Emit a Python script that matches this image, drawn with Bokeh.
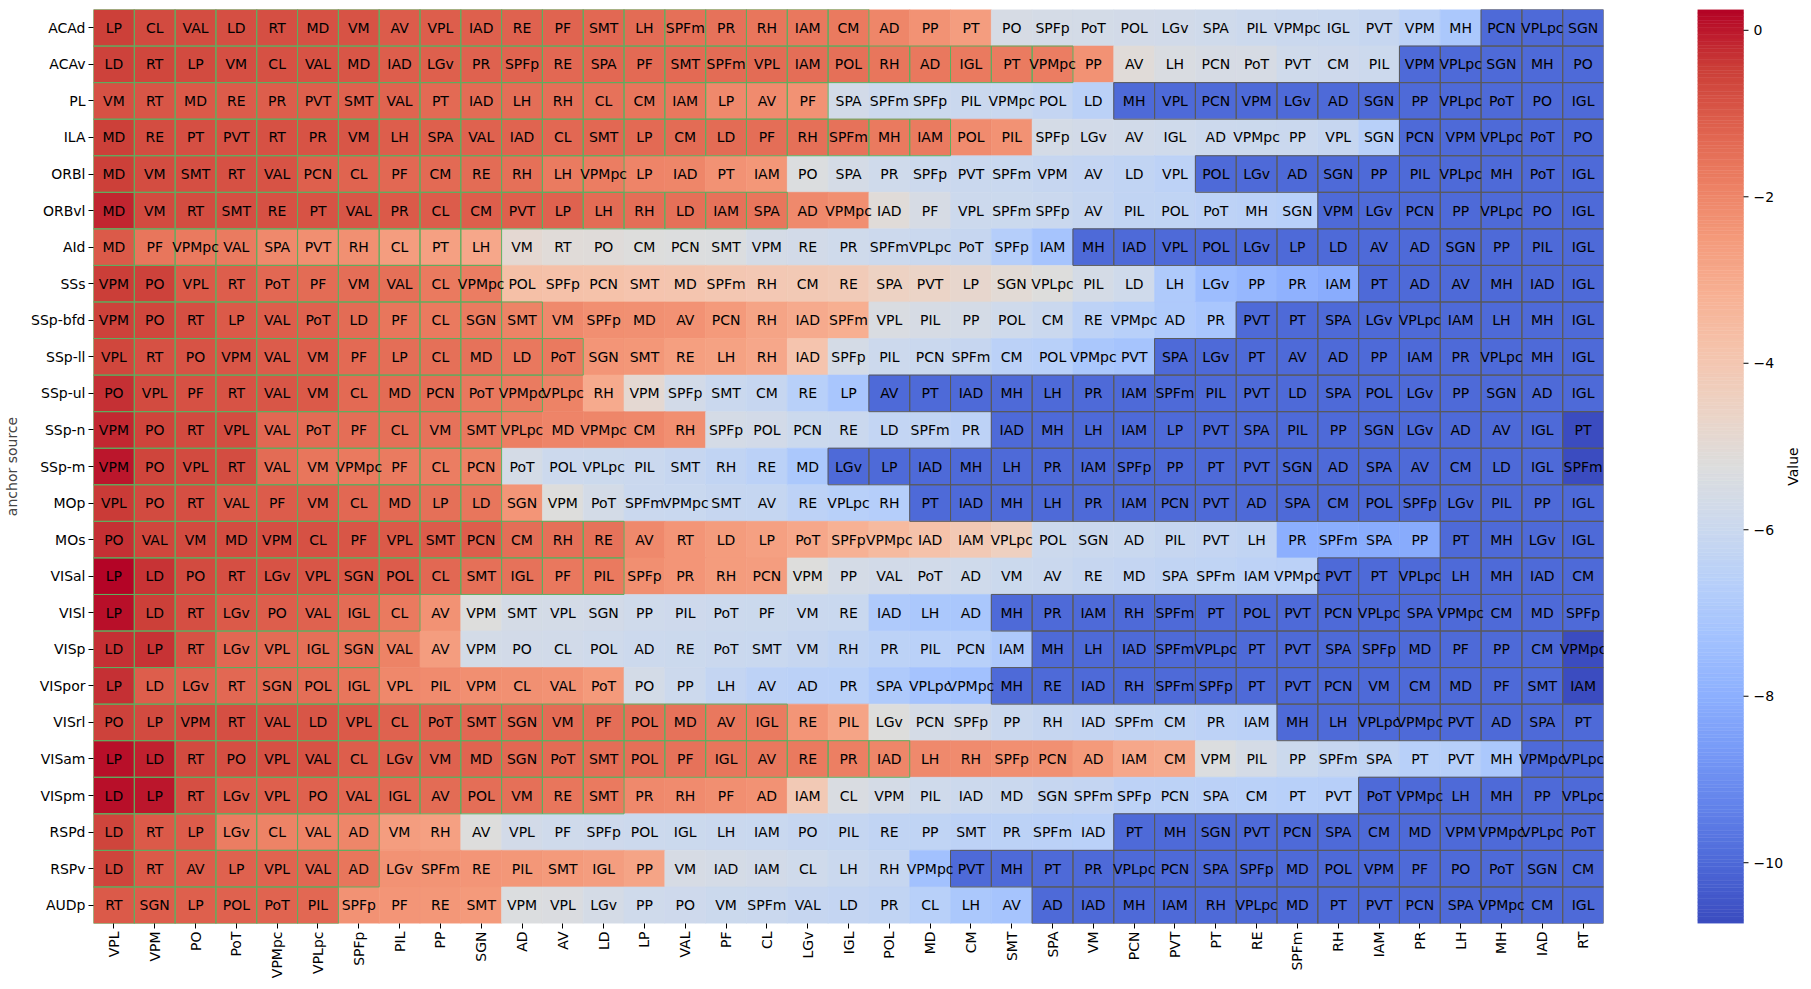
import math
import numpy as np
from bokeh.plotting import figure
from bokeh.models import FactorRange, Range1d, LinearColorMapper, ColumnDataSource
from bokeh.layouts import row
from bokeh.transform import transform
from bokeh.core.properties import value
from bokeh.embed import file_html
from bokeh.resources import INLINE

rows = ["ACAd", "ACAv", "PL", "ILA", "ORBl", "ORBvl", "AId", "SSs", "SSp-bfd", "SSp-ll",
        "SSp-ul", "SSp-n", "SSp-m", "MOp", "MOs", "VISal", "VISl", "VISp", "VISpor", "VISrl",
        "VISam", "VISpm", "RSPd", "RSPv", "AUDp"]

cols = ["VPL", "VPM", "PO", "PoT", "VPMpc", "VPLpc", "SPFp", "PIL", "PP", "SGN", "AD", "AV",
        "LD", "LP", "VAL", "PF", "CL", "LGv", "IGL", "POL", "MD", "CM", "SMT", "SPA", "VM",
        "PCN", "PVT", "PT", "RE", "SPFm", "RH", "IAM", "PR", "LH", "MH", "IAD", "RT"]

cell_labels = [
    "LP CL VAL LD RT MD VM AV VPL IAD RE PF SMT LH SPFm PR RH IAM CM AD PP PT PO SPFp PoT POL LGv SPA PIL VPMpc IGL PVT VPM MH PCN VPLpc SGN",
    "LD RT LP VM CL VAL MD IAD LGv PR SPFp RE SPA PF SMT SPFm VPL IAM POL RH AD IGL PT VPMpc PP AV LH PCN PoT PVT CM PIL VPM VPLpc SGN MH PO",
    "VM RT MD RE PR PVT SMT VAL PT IAD LH RH CL CM IAM LP AV PF SPA SPFm SPFp PIL VPMpc POL LD MH VPL PCN VPM LGv AD SGN PP VPLpc PoT PO IGL",
    "MD RE PT PVT RT PR VM LH SPA VAL IAD CL SMT LP CM LD PF RH SPFm MH IAM POL PIL SPFp LGv AV IGL AD VPMpc PP VPL SGN PCN VPM VPLpc PoT PO",
    "MD VM SMT RT VAL PCN CL PF CM RE RH LH VPMpc LP IAD PT IAM PO SPA PR SPFp PVT SPFm VPM AV LD VPL POL LGv AD SGN PP PIL VPLpc MH PoT IGL",
    "MD VM RT SMT RE PT VAL PR CL CM PVT LP LH RH LD IAM SPA AD VPMpc IAD PF VPL SPFm SPFp AV PIL POL PoT MH SGN VPM LGv PCN PP VPLpc PO IGL",
    "MD PF VPMpc VAL SPA PVT RH CL PT LH VM RT PO CM PCN SMT VPM RE PR SPFm VPLpc PoT SPFp IAM MH IAD VPL POL LGv LP LD AV AD SGN PP PIL IGL",
    "VPM PO VPL RT PoT PF VM VAL CL VPMpc POL SPFp PCN SMT MD SPFm RH CM RE SPA PVT LP SGN VPLpc PIL LD LH LGv PP PR IAM PT AD AV MH IAD IGL",
    "VPM PO RT LP VAL PoT LD PF CL SGN SMT VM SPFp MD AV PCN RH IAD SPFm VPL PIL PP POL CM RE VPMpc AD PR PVT PT SPA LGv VPLpc IAM LH MH IGL",
    "VPL RT PO VPM VAL VM PF LP CL MD LD PoT SGN SMT RE LH RH IAD SPFp PIL PCN SPFm CM POL VPMpc PVT SPA LGv PT AV AD PP IAM PR VPLpc MH IGL",
    "PO VPL PF RT VAL VM CL MD PCN PoT VPMpc VPLpc RH VPM SPFp SMT CM RE LP AV PT IAD MH LH PR IAM SPFm PIL PVT LD SPA POL LGv PP SGN AD IGL",
    "VPM PO RT VPL VAL PoT PF CL VM SMT VPLpc MD VPMpc CM RH SPFp POL PCN RE LD SPFm PR IAD MH LH IAM LP PVT SPA PIL PP SGN LGv AD AV IGL PT",
    "VPM PO VPL RT VAL VM VPMpc PF CL PCN PoT POL VPLpc PIL SMT RH RE MD LGv LP IAD MH LH PR IAM SPFp PP PT PVT SGN AD SPA AV CM LD IGL SPFm",
    "VPL PO RT VAL PF VM CL MD LP LD SGN VPM PoT SPFm VPMpc SMT AV RE VPLpc RH PT IAD MH LH PR IAM PCN PVT AD SPA CM POL SPFp LGv PIL PP IGL",
    "PO VAL VM MD VPM CL PF VPL SMT PCN CM RH RE AV RT LD LP PoT SPFp VPMpc IAD IAM VPLpc POL SGN AD PIL PVT LH PR SPFm SPA PP PT MH LGv IGL",
    "LP LD PO RT LGv VPL SGN POL CL SMT IGL PF PIL SPFp PR RH PCN VPM PP VAL PoT AD VM AV RE MD SPA SPFm IAM VPMpc PVT PT VPLpc LH MH IAD CM",
    "LP LD RT LGv PO VAL IGL CL AV VPM SMT VPL SGN PP PIL PoT PF VM RE IAD LH AD MH PR IAM RH SPFm PT POL PVT PCN VPLpc SPA VPMpc CM MD SPFp",
    "LD LP RT LGv VPL IGL SGN VAL AV VPM PO CL POL AD RE PoT SMT VM RH PR PIL PCN IAM MH LH IAD SPFm VPLpc PT PVT SPA SPFp MD PF PP CM VPMpc",
    "LP LD LGv RT SGN POL IGL VPL PIL VPM CL VAL PoT PO PP LH AV AD PR SPA VPLpc VPMpc MH RE IAD RH SPFm SPFp PT PVT PCN VM CM MD PF SMT IAM",
    "PO LP VPM RT VAL LD VPL CL PoT SMT SGN VM PF POL MD AV IGL RE PIL LGv PCN SPFp PP RH IAD SPFm CM PR IAM MH LH VPLpc VPMpc PVT AD SPA PT",
    "LP LD RT PO VPL VAL CL LGv VM MD SGN PoT SMT POL PF IGL AV RE PR IAD LH RH SPFp PCN AD IAM CM VPM PIL PP SPFm SPA PT PVT MH VPMpc VPLpc",
    "LD LP RT LGv VPL PO VAL IGL AV POL VM RE SMT PR RH PF AD IAM CL VPM PIL IAD MD SGN SPFm SPFp PCN SPA CM PT PVT PoT VPMpc LH MH PP VPLpc",
    "LD RT LP LGv CL VAL AD VM RH AV VPL PF SPFp POL IGL LH IAM PO PIL RE PP SMT PR SPFm IAD PT MH SGN PVT PCN SPA CM MD VPM VPMpc VPLpc PoT",
    "LD RT AV LP VPL VAL AD LGv SPFm RE PIL SMT IGL PP VM IAD IAM CL LH RH VPMpc PVT MH PT PR VPLpc PCN SPA SPFp MD POL VPM PF PO PoT SGN CM",
    "RT SGN LP POL PoT PIL SPFp PF RE SMT VPM VPL LGv PP PO VM SPFm VAL LD PR CL LH AV AD IAD MH IAM RH VPLpc MD PT PVT PCN SPA VPMpc CM IGL",
]

cell_values = [
    [-0.5, -0.7, -0.75, -0.8, -0.8, -0.85, -0.9, -1.05, -1.1, -1.15, -1.2, -1.25, -1.3, -1.4, -1.5, -1.55, -1.6, -1.65, -1.7, -2.0, -2.3, -2.6, -5.5, -5.6, -5.65, -5.7, -5.75, -5.8, -5.9, -6.0, -6.05, -6.1, -6.5, -7.0, -10.0, -10.0, -10.0],
    [-0.55, -0.65, -0.7, -0.8, -0.85, -0.9, -0.95, -1.1, -1.15, -1.2, -1.25, -1.3, -1.3, -1.35, -1.35, -1.4, -1.4, -1.45, -1.5, -1.6, -1.65, -1.7, -1.75, -1.8, -2.3, -5.1, -5.4, -5.5, -5.5, -5.8, -5.85, -5.9, -10.0, -10.0, -10.0, -10.0, -10.0],
    [-0.85, -0.95, -1.0, -1.05, -1.1, -1.15, -1.2, -1.25, -1.35, -1.4, -1.45, -1.5, -1.55, -1.6, -1.65, -2.1, -2.15, -2.3, -5.7, -5.9, -5.95, -6.0, -6.05, -6.2, -6.5, -10.0, -10.0, -10.0, -10.0, -10.0, -10.0, -10.0, -10.0, -10.0, -10.0, -10.0, -10.0],
    [-0.5, -0.75, -0.8, -0.85, -0.85, -0.9, -0.95, -1.1, -1.15, -1.2, -1.25, -1.3, -1.3, -1.35, -1.4, -1.4, -1.45, -1.5, -1.55, -1.7, -1.75, -2.15, -2.3, -5.6, -5.7, -5.75, -5.8, -5.9, -5.95, -6.0, -6.1, -6.6, -10.0, -10.0, -10.0, -10.0, -10.0],
    [-0.5, -0.75, -0.8, -0.85, -0.9, -1.15, -1.25, -1.3, -1.35, -1.4, -1.5, -1.75, -1.8, -1.95, -2.0, -2.3, -2.45, -5.3, -5.6, -5.8, -5.9, -6.0, -6.05, -6.1, -6.2, -6.3, -6.4, -10.0, -10.0, -10.0, -10.0, -10.0, -10.0, -10.0, -10.0, -10.0, -10.0],
    [-0.15, -0.7, -0.75, -0.8, -0.85, -0.9, -0.95, -1.0, -1.05, -1.1, -1.15, -1.2, -1.4, -1.45, -1.5, -1.55, -1.6, -2.1, -2.2, -5.1, -5.5, -5.9, -5.95, -6.0, -6.1, -6.3, -6.35, -6.4, -6.5, -6.6, -10.0, -10.0, -10.0, -10.0, -10.0, -10.0, -10.0],
    [-1.0, -1.6, -1.7, -1.75, -2.1, -2.2, -2.25, -2.6, -2.7, -2.9, -4.9, -5.1, -5.15, -5.2, -5.25, -5.3, -5.6, -5.7, -5.8, -5.9, -6.0, -6.1, -6.7, -7.2, -10.0, -10.0, -10.0, -10.0, -10.0, -10.0, -10.0, -10.0, -10.0, -10.0, -10.0, -10.0, -10.0],
    [-0.45, -0.55, -1.0, -1.1, -1.3, -1.4, -1.45, -1.5, -1.7, -1.8, -3.7, -3.75, -3.8, -3.9, -3.95, -4.0, -4.05, -4.1, -4.2, -4.5, -4.6, -4.8, -5.0, -5.2, -5.6, -5.8, -6.9, -7.5, -7.7, -7.9, -8.1, -10.0, -10.0, -10.0, -10.0, -10.0, -10.0],
    [-0.55, -0.65, -0.8, -1.0, -1.1, -1.2, -1.4, -1.6, -1.7, -1.75, -1.9, -2.1, -2.2, -2.25, -2.3, -2.5, -2.8, -3.0, -3.1, -5.4, -5.5, -5.6, -5.8, -6.0, -6.4, -6.6, -6.9, -7.1, -10.0, -10.0, -10.0, -10.0, -10.0, -10.0, -10.0, -10.0, -10.0],
    [-0.65, -0.85, -0.9, -0.95, -1.05, -1.1, -1.35, -1.45, -1.5, -1.55, -1.65, -1.7, -2.4, -2.45, -2.65, -2.75, -2.9, -3.9, -5.6, -5.9, -6.0, -6.1, -6.5, -6.6, -7.05, -7.2, -10.0, -10.0, -10.0, -10.0, -10.0, -10.0, -10.0, -10.0, -10.0, -10.0, -10.0],
    [-0.3, -0.7, -0.85, -0.9, -0.95, -1.0, -1.35, -1.4, -1.45, -1.65, -1.75, -1.9, -3.0, -4.9, -5.7, -6.0, -6.1, -6.6, -7.1, -10.0, -10.0, -10.0, -10.0, -10.0, -10.0, -10.0, -10.0, -10.0, -10.0, -10.0, -10.0, -10.0, -10.0, -10.0, -10.0, -10.0, -10.0],
    [-0.2, -0.6, -0.7, -0.75, -1.3, -1.4, -1.45, -1.5, -1.55, -1.65, -1.85, -1.95, -2.0, -2.05, -2.2, -5.6, -5.7, -5.95, -6.0, -6.25, -6.3, -6.4, -10.0, -10.0, -10.0, -10.0, -10.0, -10.0, -10.0, -10.0, -10.0, -10.0, -10.0, -10.0, -10.0, -10.0, -10.73],
    [0.0, -0.6, -0.7, -0.75, -1.4, -1.6, -1.7, -1.75, -1.8, -1.9, -5.6, -5.9, -5.95, -6.0, -6.1, -6.3, -6.5, -7.0, -10.0, -10.0, -10.0, -10.0, -10.0, -10.0, -10.0, -10.0, -10.0, -10.0, -10.0, -10.0, -10.0, -10.0, -10.0, -10.0, -10.0, -10.0, -10.73],
    [-0.4, -0.7, -0.8, -1.0, -1.05, -1.1, -1.3, -1.35, -1.5, -1.6, -2.4, -5.2, -5.65, -6.0, -6.05, -6.1, -6.15, -6.4, -6.6, -6.7, -10.0, -10.0, -10.0, -10.0, -10.0, -10.0, -10.0, -10.0, -10.0, -10.0, -10.0, -10.0, -10.0, -10.0, -10.0, -10.0, -10.0],
    [-0.3, -0.65, -0.7, -0.75, -0.8, -0.85, -0.95, -1.0, -1.05, -1.1, -1.45, -1.5, -1.55, -2.1, -2.4, -2.55, -2.7, -2.9, -3.2, -3.5, -3.8, -4.1, -4.4, -5.9, -6.0, -6.05, -6.1, -6.2, -6.3, -8.0, -8.05, -8.1, -8.15, -10.0, -10.0, -10.0, -10.0],
    [0.25, -0.35, -0.7, -0.8, -0.9, -0.95, -1.0, -1.05, -1.3, -1.5, -1.55, -1.65, -1.7, -2.2, -2.4, -2.55, -2.6, -5.2, -5.6, -5.7, -5.75, -5.8, -5.95, -6.0, -6.1, -6.2, -6.3, -6.35, -6.4, -6.5, -10.0, -10.0, -10.0, -10.0, -10.0, -10.0, -10.0],
    [0.1, -0.5, -0.8, -1.0, -1.1, -1.2, -1.4, -1.7, -2.3, -5.2, -5.6, -5.65, -5.7, -5.8, -5.85, -5.9, -5.95, -6.0, -6.05, -6.9, -7.0, -7.05, -10.0, -10.0, -10.0, -10.0, -10.0, -10.0, -10.0, -10.0, -10.0, -10.0, -10.0, -10.0, -10.0, -10.0, -10.0],
    [-0.3, -0.35, -0.9, -1.3, -1.4, -1.5, -1.6, -1.9, -2.6, -5.65, -5.7, -5.75, -5.8, -5.9, -5.95, -6.0, -6.05, -6.1, -6.3, -6.45, -6.55, -6.6, -6.95, -10.0, -10.0, -10.0, -10.0, -10.0, -10.0, -10.0, -10.0, -10.0, -10.0, -10.0, -10.0, -10.0, -10.73],
    [-0.3, -1.1, -1.2, -1.3, -1.4, -1.45, -1.6, -2.05, -2.15, -2.2, -2.25, -2.3, -2.5, -5.65, -5.9, -6.2, -6.4, -6.5, -6.55, -6.9, -7.25, -7.3, -10.0, -10.0, -10.0, -10.0, -10.0, -10.0, -10.0, -10.0, -10.0, -10.0, -10.0, -10.0, -10.0, -10.0, -10.73],
    [-0.55, -0.7, -0.75, -0.8, -0.9, -0.95, -1.0, -1.2, -1.25, -1.3, -1.35, -1.4, -1.45, -1.5, -1.55, -1.65, -1.75, -2.4, -2.8, -5.2, -5.6, -5.7, -6.0, -6.1, -6.2, -6.3, -6.35, -6.4, -6.5, -10.0, -10.0, -10.0, -10.0, -10.0, -10.0, -10.0, -10.0],
    [0.1, -0.1, -0.7, -0.8, -0.85, -0.9, -1.1, -1.15, -1.2, -1.25, -1.3, -1.4, -1.45, -1.5, -1.55, -1.6, -1.65, -1.7, -1.85, -2.0, -2.1, -2.15, -2.2, -2.25, -2.5, -2.9, -3.0, -5.3, -5.6, -5.95, -6.1, -6.3, -6.6, -6.65, -7.0, -10.0, -10.0],
    [0.1, 0.0, -0.8, -1.1, -1.15, -1.2, -1.3, -1.35, -1.4, -1.45, -1.5, -1.6, -1.7, -2.1, -2.15, -2.2, -2.3, -4.1, -5.4, -5.6, -5.8, -5.9, -6.0, -6.1, -6.2, -6.4, -6.45, -6.5, -6.55, -6.6, -6.65, -10.0, -10.0, -10.0, -10.0, -10.0, -10.0],
    [-0.6, -1.0, -1.05, -1.8, -1.9, -1.95, -2.0, -2.6, -2.7, -5.2, -5.7, -5.8, -5.85, -5.9, -5.95, -6.0, -6.05, -6.1, -6.15, -6.3, -6.35, -6.4, -6.45, -6.5, -6.55, -10.0, -10.0, -10.0, -10.0, -10.0, -10.0, -10.0, -10.0, -10.0, -10.0, -10.0, -10.0],
    [-0.6, -1.0, -1.1, -1.2, -1.25, -1.3, -1.6, -2.3, -2.35, -2.4, -2.45, -2.5, -2.6, -2.8, -5.5, -5.6, -5.7, -5.8, -6.0, -6.1, -7.3, -10.0, -10.0, -10.0, -10.0, -10.0, -10.0, -10.0, -10.0, -10.0, -10.0, -10.0, -10.0, -10.0, -10.0, -10.0, -10.0],
    [-1.0, -1.1, -1.15, -1.2, -1.25, -1.3, -2.3, -2.4, -2.45, -2.5, -5.3, -5.35, -5.6, -5.8, -5.85, -5.95, -6.0, -6.1, -6.2, -6.3, -6.6, -7.0, -7.2, -10.0, -10.0, -10.0, -10.0, -10.0, -10.0, -10.0, -10.0, -10.0, -10.0, -10.0, -10.0, -10.0, -10.0],
]

# number of leading (top-ranked) cells outlined in green, per row
n_top = [19, 24, 18, 21, 13, 17, 10, 10, 11, 12, 11, 10, 10, 10, 13, 13, 8, 7, 7, 17, 20, 13, 7, 7, 6]

v_min, v_max = -10.73, 0.25
cbar_ticks = [-10, -8, -6, -4, -2, 0]
cbar_tick_labels = ["\u221210", "\u22128", "\u22126", "\u22124", "\u22122", "0"]
cbar_title = "Value"
y_title = "anchor source"

# ---------- colormap (matplotlib "coolwarm") ----------
cw_anchor = ["#3b4cc0", "#4d68d7", "#6282ea", "#779af7", "#8db0fe", "#a3c2fe", "#b8d0f9",
             "#ccd9ed", "#dddddd", "#ecd3c5", "#f5c4ad", "#f7b194", "#f49a7b", "#ec7f63",
             "#de604d", "#cb3e38", "#b40426"]
anc = np.array([[int(h[i:i + 2], 16) for i in (1, 3, 5)] for h in cw_anchor], dtype=float)
pos = np.linspace(0, 1, len(cw_anchor))
tt = np.linspace(0, 1, 256)
palette = ["#%02x%02x%02x" % tuple(int(round(np.interp(t, pos, anc[:, c]))) for c in range(3)) for t in tt]
mapper = LinearColorMapper(palette=palette, low=v_min, high=v_max)

FONT = "DejaVu Sans"
GREEN = "#5fae5f"
GRAY = "#5a5a5a"

xs, ys, txt, vals = [], [], [], []
gx, gy, dx, dy = [], [], [], []
for i, r in enumerate(rows):
    labs = cell_labels[i].split()
    for j, c in enumerate(cols):
        v = cell_values[i][j]
        xs.append(c); ys.append(r); txt.append(labs[j]); vals.append(v)
        if j < n_top[i]:
            gx.append(c); gy.append(r)
        if v <= -9.99:
            dx.append(c); dy.append(r)

src = ColumnDataSource(dict(x=xs, y=ys, t=txt, v=vals))

p = figure(width=1660, height=989,
           x_range=FactorRange(factors=cols), y_range=FactorRange(factors=rows[::-1]),
           output_backend="svg", toolbar_location=None,
           min_border_left=93, min_border_right=57, min_border_top=9, min_border_bottom=66)
p.rect(x="x", y="y", width=1, height=1, source=src,
       fill_color=transform("v", mapper), line_color=transform("v", mapper), line_width=0.6)
p.rect(x=dx, y=dy, width=1, height=1, fill_color=None, line_color=GRAY, line_width=1)
p.rect(x=gx, y=gy, width=1, height=1, fill_color=None, line_color=GREEN, line_width=1)
p.text(x="x", y="y", text="t", source=src, text_align="center", text_baseline="middle",
       text_font=value(FONT), text_font_size="14px", text_color="black")

p.xgrid.grid_line_color = None
p.ygrid.grid_line_color = None
p.outline_line_color = None
p.axis.axis_line_color = None
p.axis.major_tick_out = 5
p.axis.major_tick_in = 0
p.axis.major_tick_line_color = "black"
p.axis.major_label_text_font = FONT
p.axis.major_label_text_font_size = "14px"
p.axis.major_label_text_color = "black"
p.axis.major_label_standoff = 3
p.xaxis.major_label_orientation = math.pi / 2
p.yaxis.axis_label = y_title
p.yaxis.axis_label_text_font = FONT
p.yaxis.axis_label_text_font_size = "14px"
p.yaxis.axis_label_text_font_style = "normal"
p.yaxis.axis_label_standoff = 8

# ---------- colour bar (bar 46 px wide, frame extends to the window edge) ----------
BAR_PX = 46.0
FRAME_PX = 114.0
edges = np.linspace(v_min, v_max, len(palette) + 1)
cb = figure(width=151, height=989, x_range=Range1d(0, FRAME_PX / BAR_PX), y_range=Range1d(v_min, v_max),
            x_axis_location=None, y_axis_location=None,
            output_backend="svg", toolbar_location=None,
            min_border_left=37, min_border_right=0, min_border_top=9, min_border_bottom=66)
cb.quad(left=0, right=1, bottom=edges[:-1], top=edges[1:], fill_color=palette, line_color=palette,
        line_width=0.5)
cb.segment(x0=[1.0] * len(cbar_ticks), y0=cbar_ticks, x1=[1 + 5 / BAR_PX] * len(cbar_ticks), y1=cbar_ticks,
           line_color="black", line_width=1)
cb.text(x=[1 + 10 / BAR_PX] * len(cbar_ticks), y=cbar_ticks, text=cbar_tick_labels,
        text_align="left", text_baseline="middle", text_font=value(FONT), text_font_size="14px",
        text_color="black")
cb.text(x=[95 / BAR_PX], y=[(v_min + v_max) / 2], text=[cbar_title], angle=math.pi / 2,
        text_align="center", text_baseline="middle", text_font=value(FONT), text_font_size="14px",
        text_color="black")
cb.grid.grid_line_color = None
cb.outline_line_color = None

layout = row(p, cb)
open("out.html", "w").write(file_html(layout, INLINE))
